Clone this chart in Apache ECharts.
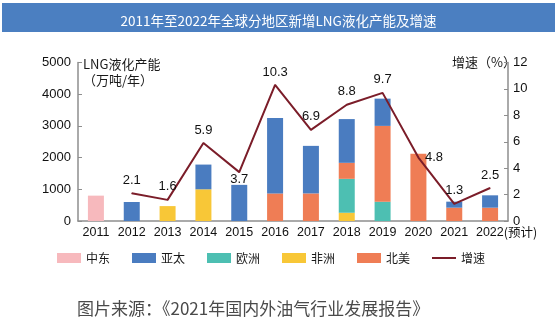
<!DOCTYPE html>
<html>
<head>
<meta charset="utf-8">
<script src="https://cdn.jsdelivr.net/npm/echarts@6/dist/echarts.min.js"></script>
<style>
  html, body { margin: 0; padding: 0; background: #ffffff; }
  #chart { width: 557px; height: 332px; }
</style>
</head>
<body>
<div id="chart"></div>
<script>
// Years on the category axis
const years = ['2011', '2012', '2013', '2014', '2015', '2016', '2017', '2018', '2019', '2020', '2021', '2022(预计)'];

// New liquefaction capacity by region (万吨/年)
const middleEast   = [800, null, null, null, null, null, null, null, null, null, null, null];
const asiaPacific  = [null, 600, null, 780, 1140, 2380, 1500, 1380, 860, null, 190, 390];
const europe       = [null, null, null, null, null, null, null, 1070, 610, null, null, null];
const africa       = [null, null, 470, 1000, null, null, null, 260, null, null, null, null];
const northAmerica = [null, null, null, null, null, 870, 870, 505, 2390, 2120, 420, 420];

// Growth rate (%)
const growth = [null, 2.1, 1.6, 5.9, 3.7, 10.3, 6.9, 8.8, 9.7, 4.8, 1.3, 2.5];
// Where each growth label sits relative to its point
const growthLabelPos = ['top', 'top', 'top', 'top', 'bottom', 'top', 'top', 'top', 'top', 'right', 'top', 'top'];

// Axis ticks
const leftTicks = { min: 0, max: 5000, interval: 1000 };
const rightTicks = { min: 0, max: 12, interval: 2 };

const FONT = '"Liberation Sans", "Noto Sans CJK SC", sans-serif';
const CJK = '"Noto Sans CJK SC", sans-serif';
const axisGray = '#8e8e8e';

const colors = {
  '中东': '#f7b9bd',
  '亚太': '#4a7cc0',
  '欧洲': '#4dbfb2',
  '非洲': '#f8c737',
  '北美': '#ef7d55',
  '增速': '#7b1d29'
};

function barSeries(name, values, order) {
  return {
    name: name,
    type: 'bar',
    stack: 'capacity',
    barWidth: 16,
    z: 2 + order,
    itemStyle: { color: colors[name] },
    data: values
  };
}

const chart = echarts.init(document.getElementById('chart'), null, { renderer: 'canvas' });

chart.setOption({
  animation: false,
  backgroundColor: '#ffffff',
  title: {
    text: '2011年至2022年全球分地区新增LNG液化产能及增速',
    left: 'center',
    top: 9,
    textStyle: { color: '#ffffff', fontSize: 13.5, fontWeight: 'normal', fontFamily: CJK }
  },
  graphic: [
    {
      type: 'rect',
      z: -1,
      shape: { x: 2, y: 3, width: 553, height: 29 },
      style: { fill: '#4b7fc1' }
    },
    {
      type: 'text',
      left: 83,
      top: 56,
      style: {
        text: 'LNG液化产能\n（万吨/年）',
        font: '13px ' + CJK,
        fill: '#1a1a1a',
        lineHeight: 16
      }
    },
    {
      type: 'text',
      left: 452,
      top: 56,
      style: {
        text: '增速（%）',
        font: '13px ' + CJK,
        fill: '#1a1a1a'
      }
    },
    {
      type: 'text',
      left: 77,
      top: 300,
      style: {
        text: '图片来源：《2021年国内外油气行业发展报告》',
        font: '17px ' + CJK,
        fill: '#4a4a4a'
      }
    }
  ],
  legend: {
    left: 52,
    top: 247,
    itemWidth: 24,
    itemHeight: 10,
    itemGap: 22,
    textStyle: { fontSize: 12, color: '#1a1a1a', fontFamily: CJK },
    data: [
      { name: '中东', icon: 'rect' },
      { name: '亚太', icon: 'rect' },
      { name: '欧洲', icon: 'rect' },
      { name: '非洲', icon: 'rect' },
      { name: '北美', icon: 'rect' },
      { name: '增速', icon: 'path://M0,0h0.01v0.01h-0.01z M0,4h24v2h-24z M23.99,9.99h0.01v0.01h-0.01z' }
    ]
  },
  grid: { left: 78, right: 49, top: 62.5, bottom: 111 },
  xAxis: {
    type: 'category',
    data: years,
    axisLine: { lineStyle: { color: axisGray, width: 1.5 } },
    axisTick: { inside: true, length: 3, lineStyle: { color: axisGray } },
    axisLabel: {
      interval: 0,
      margin: 5,
      fontSize: 12.5,
      color: '#111',
      fontFamily: FONT,
      formatter: function (v) {
        const i = v.indexOf('(');
        if (i < 0) return v;
        return '{pad|}{y|' + v.slice(0, i) + '}{s|' + v.slice(i) + '}';
      },
      rich: {
        pad: { width: 33 },
        y: { fontSize: 12.5, color: '#111', fontFamily: FONT },
        s: { fontSize: 12.5, color: '#111', fontFamily: CJK }
      }
    }
  },
  yAxis: [
    {
      type: 'value',
      min: leftTicks.min,
      max: leftTicks.max,
      interval: leftTicks.interval,
      axisLine: { show: true, lineStyle: { color: axisGray, width: 1.5 } },
      axisTick: { show: true, inside: true, length: 4, lineStyle: { color: axisGray } },
      splitLine: { show: false },
      axisLabel: {
        fontSize: 13, color: '#111', fontFamily: FONT, margin: 7,
        formatter: function (v) { return String(v); }
      }
    },
    {
      type: 'value',
      min: rightTicks.min,
      max: rightTicks.max,
      interval: rightTicks.interval,
      position: 'right',
      axisLine: { show: true, lineStyle: { color: axisGray, width: 1.5 } },
      axisTick: { show: true, inside: true, length: 4, lineStyle: { color: axisGray } },
      splitLine: { show: false },
      axisLabel: { fontSize: 13, color: '#111', fontFamily: FONT, margin: 5 }
    }
  ],
  series: [
    barSeries('中东', middleEast, 0),
    barSeries('非洲', africa, 1),
    barSeries('欧洲', europe, 2),
    barSeries('北美', northAmerica, 3),
    barSeries('亚太', asiaPacific, 4),
    {
      name: '增速',
      type: 'line',
      yAxisIndex: 1,
      z: 10,
      symbol: 'circle',
      symbolSize: 1,
      itemStyle: { color: colors['增速'] },
      lineStyle: { color: colors['增速'], width: 2 },
      label: {
        show: true,
        fontSize: 13,
        color: '#111',
        fontFamily: FONT,
        distance: 6
      },
      data: growth.map(function (v, i) {
        if (v === null) return null;
        const pos = growthLabelPos[i];
        return { value: v, label: { position: pos, distance: pos === 'bottom' ? 0 : 6 } };
      })
    }
  ]
});
</script>
</body>
</html>
